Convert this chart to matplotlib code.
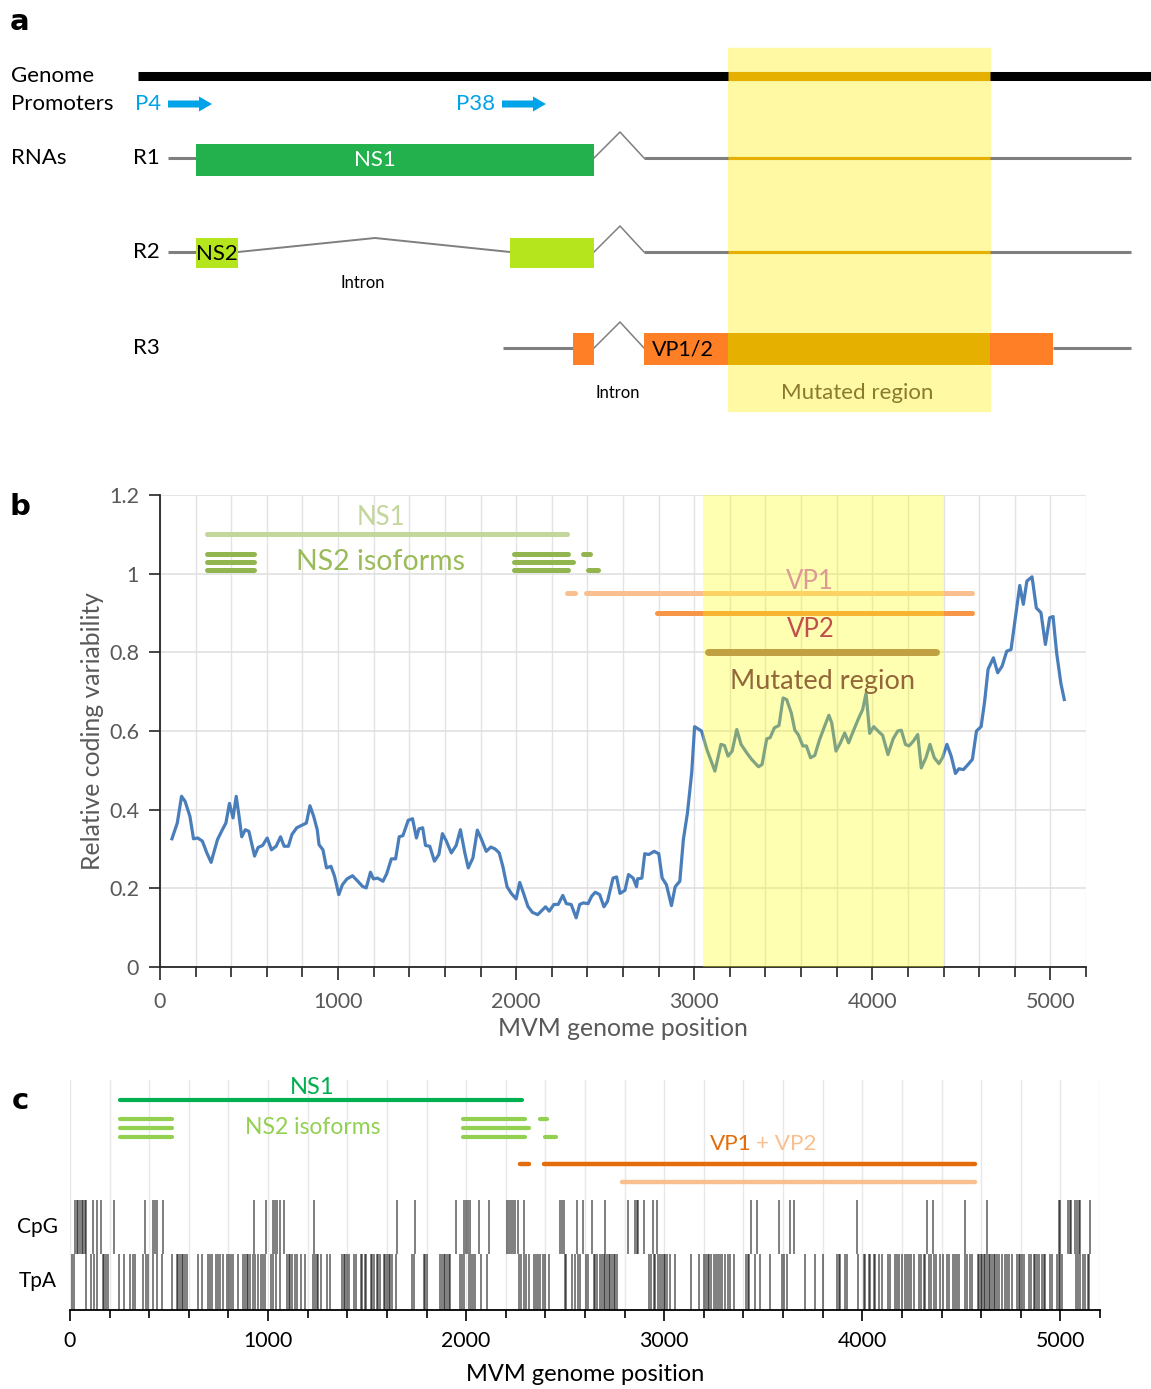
import matplotlib
matplotlib.use('Agg')
import matplotlib.pyplot as plt
from matplotlib.ticker import MultipleLocator

plt.rcParams['font.family'] = ['Lato', 'DejaVu Sans']

W, H = 1151, 1389

# ---------------- panel a : schematic (units = schematic genome scale) ----------------
genome_span = (138, 1151)
mutated_a = (728, 990)
band_a_y = (48, 411)
y_genome, y_prom = 76, 104
y_r1, y_r2, y_r3 = 158, 252, 348
promoters = ['P4', 'P38']
prom_text_x = [135, 456]
prom_arrow = [(168, 212), (502, 546)]
r1_lines = [(168, 196), (644, 1131)]
r2_lines = [(168, 196), (644, 1131)]
r3_lines = [(503, 573), (1053, 1131)]
r1_exons = [(196, 594)]
r2_exons = [(196, 238), (510, 594)]
r3_exons = [(573, 594), (644, 1053)]
splice_from, splice_peak, splice_to = 594, 620, 644
ns2_intron = (238, 375, 510)

# ---------------- panel b : coding variability ----------------
pos_b = [67, 97, 121, 141, 168, 188, 212, 238, 263, 287, 299, 323, 349, 370, 390, 410, 428,
         444, 459, 479, 499, 531, 551, 576, 602, 626, 652, 677, 697, 721, 741, 768, 804, 822,
         842, 863, 883, 893, 915, 935, 960, 980, 1004, 1024, 1050, 1081, 1111, 1137, 1158,
         1182, 1198, 1222, 1252, 1273, 1299, 1323, 1343, 1364, 1394, 1418, 1440, 1454, 1475,
         1491, 1515, 1541, 1566, 1586, 1606, 1636, 1663, 1687, 1711, 1731, 1757, 1782, 1804,
         1832, 1858, 1882, 1905, 1925, 1949, 1973, 2000, 2020, 2044, 2066, 2091, 2121, 2145,
         2165, 2186, 2212, 2236, 2262, 2282, 2309, 2337, 2357, 2377, 2404, 2424, 2444, 2469,
         2493, 2513, 2544, 2564, 2583, 2611, 2631, 2657, 2676, 2682, 2706, 2722, 2745, 2775,
         2801, 2820, 2844, 2872, 2893, 2919, 2939, 2962, 2986, 3002, 3041, 3071, 3116, 3150,
         3170, 3190, 3213, 3239, 3263, 3294, 3322, 3361, 3381, 3407, 3426, 3450, 3476, 3499,
         3519, 3545, 3565, 3584, 3610, 3630, 3653, 3677, 3703, 3732, 3756, 3772, 3796, 3821,
         3845, 3867, 3889, 3919, 3946, 3965, 3985, 4008, 4032, 4058, 4088, 4117, 4143, 4163,
         4186, 4206, 4230, 4255, 4275, 4301, 4324, 4348, 4374, 4394, 4419, 4443, 4467, 4486,
         4512, 4538, 4562, 4585, 4611, 4631, 4650, 4680, 4704, 4729, 4755, 4779, 4802, 4828,
         4848, 4868, 4897, 4921, 4947, 4972, 4996, 5015, 5035, 5059, 5078]
var_b = [0.326, 0.366, 0.434, 0.421, 0.383, 0.326, 0.328, 0.320, 0.290, 0.266, 0.286, 0.324,
         0.348, 0.366, 0.416, 0.379, 0.434, 0.383, 0.331, 0.349, 0.345, 0.282, 0.304, 0.309,
         0.328, 0.298, 0.307, 0.331, 0.307, 0.307, 0.337, 0.354, 0.362, 0.366, 0.410, 0.383,
         0.349, 0.311, 0.298, 0.252, 0.256, 0.231, 0.184, 0.209, 0.224, 0.232, 0.218, 0.205,
         0.201, 0.241, 0.224, 0.226, 0.218, 0.237, 0.275, 0.275, 0.331, 0.334, 0.373, 0.377,
         0.328, 0.351, 0.354, 0.309, 0.307, 0.269, 0.286, 0.339, 0.322, 0.290, 0.309, 0.349,
         0.292, 0.252, 0.277, 0.348, 0.326, 0.294, 0.305, 0.300, 0.290, 0.256, 0.204, 0.187,
         0.173, 0.215, 0.184, 0.154, 0.139, 0.133, 0.144, 0.153, 0.142, 0.159, 0.159, 0.182,
         0.161, 0.159, 0.125, 0.159, 0.163, 0.161, 0.180, 0.190, 0.184, 0.153, 0.167, 0.226,
         0.229, 0.187, 0.195, 0.235, 0.226, 0.204, 0.224, 0.226, 0.288, 0.286, 0.294, 0.288,
         0.226, 0.209, 0.156, 0.204, 0.218, 0.324, 0.392, 0.495, 0.611, 0.600, 0.553, 0.498,
         0.566, 0.563, 0.536, 0.549, 0.604, 0.566, 0.545, 0.528, 0.509, 0.515, 0.580, 0.583,
         0.608, 0.614, 0.684, 0.680, 0.646, 0.602, 0.591, 0.562, 0.562, 0.532, 0.538, 0.577,
         0.612, 0.640, 0.621, 0.549, 0.570, 0.595, 0.570, 0.595, 0.628, 0.655, 0.696, 0.594,
         0.611, 0.600, 0.589, 0.540, 0.580, 0.600, 0.602, 0.566, 0.562, 0.574, 0.591, 0.506,
         0.532, 0.566, 0.532, 0.517, 0.532, 0.566, 0.536, 0.492, 0.504, 0.502, 0.515, 0.528,
         0.600, 0.611, 0.676, 0.757, 0.786, 0.748, 0.765, 0.803, 0.807, 0.884, 0.970, 0.922,
         0.981, 0.992, 0.913, 0.901, 0.820, 0.888, 0.891, 0.799, 0.721, 0.680]
mutated_b = (3050, 4400)
b_ns1 = [(264, 2287)]
b_ns2 = [[(264, 528), (1989, 2292), (2376, 2416)],
         [(264, 528), (1989, 2320)],
         [(264, 528), (1989, 2292), (2404, 2461)]]
b_ns2_y = [1.050, 1.030, 1.009]
b_vp1 = [(2287, 2331), (2393, 4562)]
b_vp2 = [(2792, 4562)]
b_mut = [(3079, 4360)]

# ---------------- panel c : CpG / TpA positions ----------------
cpg = [25, 34, 42, 50, 59, 67, 76, 82, 116, 138, 155, 224, 379, 418, 429, 441, 468, 928,
       987, 1025, 1035, 1045, 1061, 1079, 1234, 1652, 1742, 1949, 1990, 1998, 2008, 2018,
       2066, 2116, 2205, 2214, 2224, 2234, 2247, 2264, 2290, 2475, 2483, 2493, 2559, 2588,
       2635, 2702, 2816, 2853, 2862, 2870, 2899, 2941, 2965, 3438, 3468, 3577, 3633, 3653,
       3973, 4327, 4359, 4517, 4631, 4992, 5000, 5039, 5048, 5056, 5076, 5084, 5093, 5101,
       5152]
tpa = [8, 22, 79, 106, 123, 135, 165, 173, 182, 194, 248, 271, 305, 320, 328, 370, 386, 396,
       421, 438, 463, 513, 539, 547, 556, 564, 572, 581, 591, 645, 665, 699, 707, 715, 736,
       749, 758, 774, 791, 805, 813, 825, 847, 875, 884, 892, 901, 909, 926, 934, 948, 963,
       976, 985, 1015, 1027, 1039, 1061, 1094, 1106, 1113, 1120, 1136, 1148, 1165, 1187,
       1229, 1237, 1248, 1254, 1268, 1296, 1313, 1372, 1381, 1389, 1397, 1409, 1436, 1443,
       1470, 1476, 1487, 1493, 1520, 1527, 1537, 1549, 1557, 1566, 1583, 1591, 1599, 1608,
       1616, 1625, 1647, 1726, 1739, 1785, 1793, 1801, 1869, 1877, 1886, 1894, 1902, 1911,
       1919, 1970, 1978, 1987, 2015, 2025, 2037, 2045, 2076, 2104, 2268, 2278, 2290, 2301,
       2318, 2345, 2352, 2362, 2374, 2386, 2399, 2416, 2497, 2503, 2534, 2547, 2564, 2576,
       2604, 2614, 2643, 2652, 2660, 2677, 2685, 2694, 2702, 2710, 2719, 2727, 2736, 2744,
       2753, 2761, 2924, 2934, 2946, 2955, 2971, 2980, 2988, 2997, 3005, 3013, 3030, 3056,
       3136, 3177, 3199, 3210, 3221, 3227, 3237, 3249, 3261, 3271, 3283, 3291, 3308, 3322,
       3333, 3350, 3414, 3423, 3429, 3460, 3485, 3535, 3594, 3603, 3621, 3709, 3759, 3800,
       3872, 3880, 3889, 3914, 3923, 3978, 4007, 4015, 4032, 4040, 4057, 4066, 4082, 4099,
       4130, 4141, 4167, 4175, 4187, 4200, 4214, 4225, 4234, 4246, 4263, 4288, 4298, 4310,
       4318, 4338, 4348, 4360, 4372, 4394, 4406, 4427, 4439, 4456, 4466, 4478, 4490, 4520,
       4528, 4545, 4554, 4584, 4591, 4597, 4604, 4613, 4621, 4630, 4638, 4646, 4655, 4663,
       4672, 4680, 4692, 4705, 4719, 4731, 4742, 4756, 4781, 4789, 4798, 4806, 4815, 4843,
       4853, 4865, 4874, 4882, 4890, 4907, 4916, 4924, 4949, 4958, 4983, 4991, 5000, 5008,
       5079, 5089, 5101, 5113, 5126, 5140, 5146]
c_ns1 = [(253, 2283)]
c_ns2 = [[(253, 515), (1985, 2298), (2374, 2409)],
         [(253, 515), (1985, 2318)],
         [(253, 515), (1985, 2298), (2399, 2455)]]
c_ns2_y = [191, 182, 173]
c_vp1 = [(2273, 2318), (2394, 4571)]
c_vp2 = [(2788, 4571)]

GREY = '#7f7f7f'
GOLD = '#e5b000'
BAND = '#fff9a3'

fig = plt.figure(figsize=(W / 100, H / 100), dpi=100)

# ======================= panel a =======================
ax_a = fig.add_axes([0, 1 - 430 / H, 1, 430 / H])
ax_a.set_xlim(0, W)
ax_a.set_ylim(430, 0)
ax_a.axis('off')

ax_a.axvspan(*mutated_a, ymin=1 - band_a_y[1] / 430, ymax=1 - band_a_y[0] / 430,
             color=BAND, zorder=0)
ax_a.plot(genome_span, [y_genome] * 2, color='black', lw=6.5, solid_capstyle='butt', zorder=2)
ax_a.plot(mutated_a, [y_genome] * 2, color=GOLD, lw=6.5, solid_capstyle='butt', zorder=3)

for name, tx, (x0, x1) in zip(promoters, prom_text_x, prom_arrow):
    ax_a.text(tx, y_prom, name, color='#00a2e8', fontsize=16, va='center', ha='left')
    ax_a.arrow(x0, y_prom, x1 - x0, 0, width=7, head_width=15, head_length=13,
               length_includes_head=True, color='#00a2e8', lw=0)

for lab, y in [('Genome', y_genome), ('Promoters', y_prom), ('RNAs', y_r1)]:
    ax_a.text(11, y, lab, fontsize=16, va='center', ha='left')
for lab, y in [('R1', y_r1), ('R2', y_r2), ('R3', y_r3)]:
    ax_a.text(133, y, lab, fontsize=16, va='center', ha='left')

def rna_lines(lines, y):
    for x0, x1 in lines:
        ax_a.plot([x0, x1], [y, y], color=GREY, lw=2.2, solid_capstyle='butt', zorder=2)
        lo, hi = max(x0, mutated_a[0]), min(x1, mutated_a[1])
        if hi > lo:
            ax_a.plot([lo, hi], [y, y], color=GOLD, lw=2.2, solid_capstyle='butt', zorder=3)
    ax_a.plot([splice_from, splice_peak, splice_to], [y, y - 26, y], color=GREY, lw=1.1,
              zorder=2)

rna_lines(r1_lines, y_r1)
rna_lines(r2_lines, y_r2)
rna_lines(r3_lines, y_r3)

ax_a.broken_barh([(x0, x1 - x0) for x0, x1 in r1_exons], (y_r1 - 14, 32),
                 facecolors='#22b14c', zorder=4)
ax_a.text(375, y_r1 + 2, 'NS1', color='white', fontsize=16, ha='center', va='center', zorder=5)

ax_a.broken_barh([(x0, x1 - x0) for x0, x1 in r2_exons], (y_r2 - 14, 30),
                 facecolors='#b5e61d', zorder=4)
ax_a.plot(ns2_intron, [y_r2, y_r2 - 14, y_r2], color=GREY, lw=1.4, zorder=2)
ax_a.text(217, y_r2 + 2, 'NS2', color='black', fontsize=16, ha='center', va='center', zorder=5)
ax_a.text(363, 283, 'Intron', fontsize=12, ha='center', va='center')

ax_a.broken_barh([(x0, x1 - x0) for x0, x1 in r3_exons], (y_r3 - 15, 32),
                 facecolors='#ff7f27', zorder=4)
ax_a.broken_barh([(mutated_a[0], mutated_a[1] - mutated_a[0])], (y_r3 - 15, 32),
                 facecolors=GOLD, zorder=4.5)
ax_a.text(652, y_r3 + 1, 'VP1/2', color='black', fontsize=15.5, ha='left', va='center', zorder=5)
ax_a.text(618, 393, 'Intron', fontsize=12, ha='center', va='center')
ax_a.text(857, 393, 'Mutated region', color='#8a7a2e', fontsize=16, ha='center', va='center')

# ======================= panel b =======================
ax_b = fig.add_axes([160 / W, 1 - 967 / H, 926 / W, 472 / H])
ax_b.set_xlim(0, 5200)
ax_b.set_ylim(0, 1.2)
ax_b.xaxis.set_major_locator(MultipleLocator(1000))
ax_b.xaxis.set_minor_locator(MultipleLocator(200))
ax_b.yaxis.set_major_locator(MultipleLocator(0.2))
ax_b.yaxis.set_major_formatter(plt.FuncFormatter(lambda v, p: f'{v:g}'))
ax_b.grid(True, which='both', axis='x', color='#e3e3e3', lw=1)
ax_b.grid(True, which='major', axis='y', color='#e0e0e0', lw=1.2)
ax_b.set_axisbelow(True)
for s in ['top', 'right']:
    ax_b.spines[s].set_visible(False)
for s in ['left', 'bottom']:
    ax_b.spines[s].set_color('#262626')
    ax_b.spines[s].set_linewidth(1.3)
ax_b.tick_params(axis='x', which='major', length=9, width=1.2, direction='out', pad=9,
                 labelsize=15.5, labelcolor='#595959', color='#262626')
ax_b.tick_params(axis='x', which='minor', length=7, width=1.2, direction='out',
                 color='#262626')
ax_b.tick_params(axis='y', length=8, width=1.2, direction='out', pad=7, labelsize=15.5,
                 labelcolor='#595959', color='#262626')

ax_b.plot(pos_b, var_b, color='#4a7ebb', lw=2.3, zorder=2)


def seg_lines(ax, segs, y, color, lw, z):
    for x0, x1 in segs:
        ax.plot([x0, x1], [y, y], color=color, lw=lw, solid_capstyle='round', zorder=z)


seg_lines(ax_b, b_ns1, 1.101, '#c3d69b', 3.6, 2)
for segs, y in zip(b_ns2, b_ns2_y):
    seg_lines(ax_b, segs, y, '#92b550', 3.6, 2)
seg_lines(ax_b, b_vp1, 0.951, '#fabf8f', 3.6, 2)
seg_lines(ax_b, b_vp2, 0.900, '#f79646', 3.6, 2)
ax_b.axvspan(*mutated_b, color='yellow', alpha=0.3, lw=0, zorder=3)
seg_lines(ax_b, b_mut, 0.801, '#c0a040', 5, 4)

ax_b.text(1240, 1.144, 'NS1', color='#c3d69b', fontsize=18.5, ha='center', va='center')
ax_b.text(1240, 1.030, 'NS2 isoforms', color='#9bbb59', fontsize=20.5, ha='center',
          va='center')
ax_b.text(3652, 0.980, 'VP1', color='#dc9a94', fontsize=18.5, ha='center', va='center',
          zorder=5)
ax_b.text(3652, 0.859, 'VP2', color='#c0504d', fontsize=18.5, ha='center', va='center',
          zorder=5)
ax_b.text(3719, 0.725, 'Mutated region', color='#94673a', fontsize=19.5, ha='center',
          va='center', zorder=5)

ax_b.set_xlabel('MVM genome position', fontsize=17.8, color='#595959')
ax_b.set_ylabel('Relative coding variability', fontsize=17.8, color='#595959')
ax_b.xaxis.set_label_coords(0.5, -0.105)
ax_b.yaxis.set_label_coords(-0.06, 0.5)

# ======================= panel c =======================
ax_c = fig.add_axes([70 / W, 1 - 1310 / H, 1030 / W, 230 / H])
ax_c.set_xlim(0, 5200)
ax_c.set_ylim(0, 230)
ax_c.xaxis.set_major_locator(MultipleLocator(1000))
ax_c.xaxis.set_minor_locator(MultipleLocator(200))
ax_c.set_yticks([])
ax_c.grid(True, which='both', axis='x', color='#e8e8e8', lw=1)
ax_c.set_axisbelow(True)
for s in ['top', 'right', 'left']:
    ax_c.spines[s].set_visible(False)
ax_c.spines['bottom'].set_linewidth(1.3)
ax_c.tick_params(axis='x', which='major', length=8, width=1.2, pad=7, labelsize=15.3)
ax_c.tick_params(axis='x', which='minor', length=6, width=1.2)

ax_c.vlines(cpg, 56, 110, color='black', alpha=0.5, lw=1.4, zorder=2)
ax_c.vlines(tpa, 0, 56, color='black', alpha=0.5, lw=1.4, zorder=2)

seg_lines(ax_c, c_ns1, 210, '#00b050', 3.0, 3)
for segs, y in zip(c_ns2, c_ns2_y):
    seg_lines(ax_c, segs, y, '#92d050', 3.0, 3)
seg_lines(ax_c, c_vp1, 146, '#e46c0a', 3.2, 3)
seg_lines(ax_c, c_vp2, 128, '#fabf8f', 3.2, 3)

ax_c.text(1222, 222, 'NS1', color='#00b050', fontsize=17, ha='center', va='center')
ax_c.text(1227, 182, 'NS2 isoforms', color='#92d050', fontsize=16.5, ha='center', va='center')
ax_c.text(3440, 166, 'VP1', color='#e46c0a', fontsize=16.2, ha='right', va='center')
ax_c.text(3465, 166, '+ VP2', color='#fabf8f', fontsize=16.2, ha='left', va='center')

ax_c.set_xlabel('MVM genome position', fontsize=17)
ax_c.xaxis.set_label_coords(0.5, -0.235)

fig.text(38 / W, 1 - 1227 / H, 'CpG', fontsize=15, ha='center', va='center')
fig.text(38 / W, 1 - 1281 / H, 'TpA', fontsize=15, ha='center', va='center')

# panel letters
for letter, y in [('a', 22), ('b', 507), ('c', 1101)]:
    fig.text(20 / W, 1 - y / H, letter, fontsize=21, fontweight='bold', ha='center',
             va='center', family='DejaVu Sans')

fig.savefig('out.png', dpi=100)
